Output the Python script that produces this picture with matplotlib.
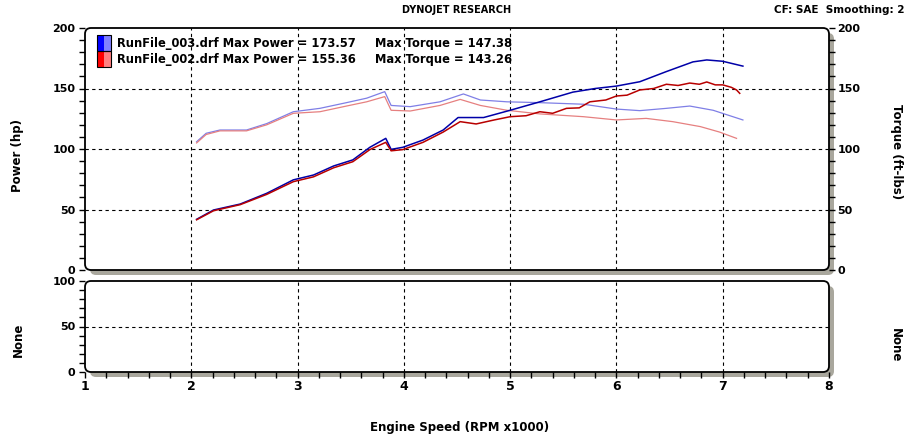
import matplotlib
matplotlib.use("Agg")
import matplotlib.pyplot as plt
from matplotlib.patches import FancyBboxPatch, Rectangle
from matplotlib.transforms import IdentityTransform
import numpy as np

# ---------------- data ----------------
rpm_p003 = [2.05, 2.21, 2.46, 2.71, 2.96, 3.15, 3.34, 3.52, 3.68, 3.83, 3.88, 3.99, 4.18, 4.37, 4.51, 4.75,
            5.0, 5.28, 5.59, 5.8, 6.0, 6.22, 6.47, 6.72, 6.85, 7.0, 7.19]
hp_003 = [41.9, 49.6, 54.5, 63.4, 74.5, 78.5, 86, 91, 101.4, 108.8, 99.7, 101.4, 107.4, 115.7, 126, 126,
          132, 139, 147, 150, 152, 155.6, 164, 172, 173.6, 172.5, 168.5]

rpm_p002 = [2.05, 2.21, 2.46, 2.71, 2.96, 3.15, 3.34, 3.52, 3.68, 3.83, 3.88, 3.99, 4.18, 4.37, 4.53, 4.68,
            4.85, 5.0, 5.15, 5.28, 5.4, 5.53, 5.65, 5.75, 5.9, 6.0, 6.1, 6.22, 6.35, 6.47, 6.58, 6.69, 6.78,
            6.85, 6.93, 7.0, 7.08, 7.13, 7.16]
hp_002 = [41.5, 49, 54, 62.5, 73, 77, 84.5, 89.5, 99.5, 105.5, 98.5, 99.5, 105.5, 114, 122.6, 120.7,
          124, 126.7, 127.5, 130.8, 129.5, 133.6, 134, 139, 140.5, 143.8, 144.5, 148.8, 150, 153.5, 152.5,
          154.5, 153.5, 155.4, 153, 153, 151, 148.8, 146]

rpm_t003 = [2.05, 2.14, 2.27, 2.52, 2.71, 2.96, 3.21, 3.46, 3.65, 3.82, 3.88, 4.06, 4.34, 4.56, 4.72, 4.97,
            5.28, 5.69, 6.0, 6.22, 6.47, 6.69, 6.91, 7.19]
tq_003 = [106, 113, 115.7, 115.7, 121, 130.8, 133.6, 138.3, 142, 147.4, 136, 135, 139, 145.5, 140.5, 139,
          138.3, 137, 133, 131.7, 133.6, 135.5, 132, 124]

rpm_t002 = [2.05, 2.14, 2.27, 2.52, 2.71, 2.96, 3.21, 3.46, 3.65, 3.82, 3.88, 4.06, 4.34, 4.53, 4.72, 4.97,
            5.28, 5.69, 6.0, 6.28, 6.53, 6.79, 6.97, 7.13]
tq_002 = [105, 112, 115, 115, 120, 129.5, 130.8, 135.5, 139, 143.3, 132, 131.4, 136, 141, 136, 132,
          129, 126.7, 124, 125.3, 122.6, 118.5, 114, 108.8]

legend_names = ["RunFile_003.drf", "RunFile_002.drf"]
max_power = ["173.57", "155.36"]
max_torque = ["147.38", "143.26"]

# ---------------- figure ----------------
W, H = 917, 445
fig = plt.figure(figsize=(W / 100, H / 100), dpi=100)
fig.patch.set_facecolor("white")
plt.rcParams["font.family"] = ["DejaVu Sans"]

def px_axes(l, t, r, b):
    return fig.add_axes([l / W, (H - b) / H, (r - l) / W, (b - t) / H])

def frame(l, t, r, b, sh=5):
    rs = 6
    shadow = FancyBboxPatch((l + sh, H - b - sh), r - l, b - t,
                            boxstyle=f"round,pad=0,rounding_size={rs}",
                            transform=IdentityTransform(), facecolor="#a9a79d",
                            edgecolor="none", zorder=-10)
    box = FancyBboxPatch((l, H - b), r - l, b - t,
                         boxstyle=f"round,pad=0,rounding_size={rs}",
                         transform=IdentityTransform(), facecolor="white",
                         edgecolor="black", linewidth=1.3, zorder=-9)
    fig.patches.extend([shadow, box])

L, R = 85, 829
T1, B1 = 28, 270
T2, B2 = 281, 372
frame(L, T1, R, B1)
frame(L, T2, R, B2)

ax1 = px_axes(L, T1, R, B1)
ax2 = px_axes(L, T2, R, B2)
for ax in (ax1, ax2):
    ax.patch.set_visible(False)
    for s in ax.spines.values():
        s.set_visible(False)
    ax.set_xlim(1, 8)

grid_kw = dict(color="black", linestyle=(0, (3, 3)), linewidth=0.8, zorder=1)
for xv in range(2, 8):
    ax1.axvline(xv, **grid_kw)
    ax2.axvline(xv, **grid_kw)
for yv in (50, 100, 150):
    ax1.axhline(yv, **grid_kw)
ax2.axhline(50, **grid_kw)

ax1.set_ylim(0, 200)
ax2.set_ylim(0, 100)

# curves
ax1.plot(rpm_t003, tq_003, color="#7f7fe6", lw=0.9, zorder=3)
ax1.plot(rpm_t002, tq_002, color="#e68080", lw=0.9, zorder=3)
ax1.plot(rpm_p003, hp_003, color="#0000a8", lw=1.1, zorder=4)
ax1.plot(rpm_p002, hp_002, color="#b80000", lw=1.1, zorder=4)

# top axes ticks
ax1.set_xticks([])
ax1.set_yticks(np.arange(0, 201, 50))
ax1.set_yticks(np.arange(0, 201, 10), minor=True)
ax1.tick_params(axis="y", which="both", direction="out", length=4, width=1, pad=3, labelsize=8)
ax1.tick_params(axis="y", which="minor", labelleft=False)
for lab in ax1.get_yticklabels():
    lab.set_fontweight("bold")

ax1r = ax1.twinx()
for s in ax1r.spines.values():
    s.set_visible(False)
ax1r.patch.set_visible(False)
ax1r.set_ylim(0, 200)
ax1r.set_yticks(np.arange(0, 201, 50))
ax1r.set_yticks(np.arange(0, 201, 10), minor=True)
ax1r.tick_params(axis="y", which="both", direction="out", length=4, width=1, pad=2, labelsize=8)
for lab in ax1r.get_yticklabels():
    lab.set_fontweight("bold")

# bottom axes ticks
ax2.set_xticks(np.arange(1, 9, 1))
ax2.set_xticks(np.arange(1, 8.01, 0.2), minor=True)
ax2.tick_params(axis="x", which="both", direction="out", length=4, width=1, pad=2, labelsize=9)
ax2.set_yticks([0, 50, 100])
ax2.set_yticks(np.arange(0, 101, 10), minor=True)
ax2.tick_params(axis="y", which="both", direction="out", length=4, width=1, pad=3, labelsize=8)
for lab in ax2.get_xticklabels() + ax2.get_yticklabels():
    lab.set_fontweight("bold")

# legend
def px_text(x, y, s, **kw):
    fig.text(x / W, 1 - y / H, s, **kw)

colors = [("#0000ff", "#8080ff"), ("#ff0000", "#ff8080")]
for i, (c1, c2) in enumerate(colors):
    y0 = 35 + i * 16
    fig.patches.append(Rectangle((97, H - y0 - 16), 7, 16, transform=IdentityTransform(),
                                 facecolor=c1, edgecolor="none", zorder=5))
    fig.patches.append(Rectangle((104, H - y0 - 16), 7, 16, transform=IdentityTransform(),
                                 facecolor=c2, edgecolor="none", zorder=5))
    fig.patches.append(Rectangle((97, H - y0 - 16), 14, 16, transform=IdentityTransform(),
                                 facecolor="none", edgecolor="black", linewidth=0.8, zorder=6))
    px_text(117, y0 + 8, f"{legend_names[i]} Max Power = {max_power[i]}",
            va="center", ha="left", fontsize=8.3, fontweight="bold")
    px_text(375, y0 + 8, f"Max Torque = {max_torque[i]}",
            va="center", ha="left", fontsize=8.3, fontweight="bold")

px_text(457, 10, "DYNOJET RESEARCH", ha="center", va="center", fontsize=7, fontweight="bold")
px_text(905, 10, "CF: SAE  Smoothing: 2", ha="right", va="center", fontsize=7.5, fontweight="bold")
px_text(18, 155, "Power (hp)", ha="center", va="center", rotation=90, fontsize=8.5, fontweight="bold")
px_text(897, 152, "Torque (ft-lbs)", ha="center", va="center", rotation=-90, fontsize=8.5, fontweight="bold")
px_text(18, 340, "None", ha="center", va="center", rotation=90, fontsize=8.5, fontweight="bold")
px_text(895, 345, "None", ha="center", va="center", rotation=-90, fontsize=8.5, fontweight="bold")
px_text(460, 428, "Engine Speed (RPM x1000)", ha="center", va="center", fontsize=8.5, fontweight="bold")

fig.savefig("out.png", dpi=100)
